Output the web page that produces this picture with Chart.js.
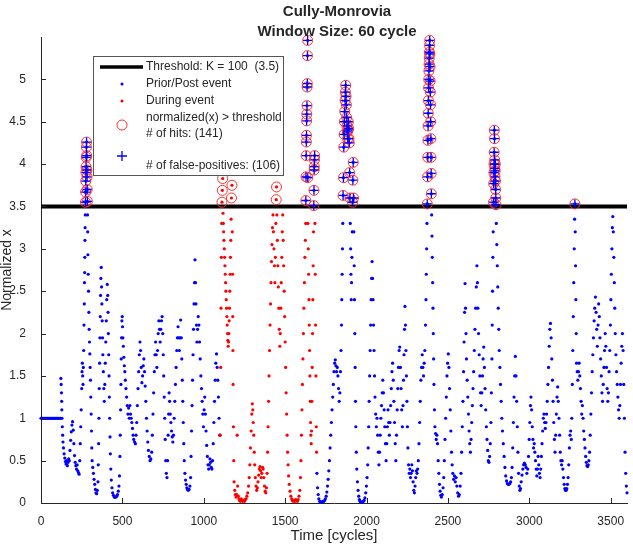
<!DOCTYPE HTML>
<html lang="en">
<head>
    <meta charset="utf-8">
    <title>Cully-Monrovia</title>
    <script src="https://cdn.jsdelivr.net/npm/chart.js@4.4.0/dist/chart.umd.min.js"></script>
    <style>
        body { margin: 0; background: #fff; }
    </style>
</head>
<body>
    <canvas id="grafica" width="633" height="546"></canvas>
</body>
</html>
<script>
    const threshold = 3.5

    // [cycle, normalized x]
    const priorEvent = [
        [0,1],[5,1],[10,1],[15,1],[20,1],[25,1],[30,1],[35,1],[40,1],[45,1],[50,1],[55,1],[60,1],[65,1],[70,1],[75,1],[80,1],[85,1],[90,1],[95,1],[100,1],[105,1],[110,1],[115,1],[120,1],
        [122,1.47],[124,1.4],[126,1.3],[127,1.2],[128,1.1],[129,1.0],[131,0.9],[133,0.8],[135,0.72],[138,0.65],[142,0.58],[146,0.53],[150,0.49],[154,0.46],[158,0.5],[162,0.44],[166,0.48],[170,0.52],[174,0.5],[178,0.62],[182,0.74],[186,0.84],[190,0.92],[194,0.96],[198,0.86],[202,0.7],[206,0.56],[210,0.48],[214,0.44],[218,0.4],[222,0.45],[226,0.38],[230,0.36],[234,0.34],[238,0.5],[241,0.7],[244,0.9],[247,1.1],[250,1.35],[252,1.55],[254,1.65],[256,1.5],[258,1.4],[260,1.6],[262,1.8],[264,2.1],[266,2.35],[267,2.6],[268,2.72],[269,2.9],[270,3.1],[271,3.25],[272,3.4],
        [273,3.55],[274,3.67],[275,3.8],[276,3.9],[277,3.97],[278,4.08],[279,4.2],[280,4.26],[281,4.1],[282,3.93],[283,3.85],[284,3.7],[285,3.56],
        [286,3.4],[287,3.2],[288,2.93],[290,2.7],[292,2.5],[294,2.25],[296,2.05],[298,1.9],[300,1.76],[302,1.6],[304,1.45],[306,1.25],[308,1.05],[310,0.85],[312,0.65],[314,0.5],[318,0.42],[322,0.35],[326,0.28],[330,0.22],[334,0.16],[338,0.12],[342,0.11],[346,0.15],[350,0.25],[352,0.45],[354,0.7],[356,1.0],[358,1.35],[360,1.65],[362,1.95],[364,2.2],[366,2.45],[368,2.65],[370,2.78],[372,2.55],[374,2.35],[376,2.15],[378,1.95],[380,1.75],[383,1.55],[386,1.35],[389,1.2],[392,1.4],[395,1.65],[398,1.9],[401,2.15],[404,2.4],[407,2.58],[410,2.45],[412,2.25],[414,2.0],[416,1.75],[418,1.5],[420,1.25],[422,1.0],[424,0.78],[426,0.58],[429,0.4],[432,0.27],[436,0.18],[440,0.12],[445,0.09],[450,0.07],[455,0.07],[460,0.07],[465,0.08],[470,0.1],[475,0.14],[479,0.2],[482,0.32],[485,0.55],[487,0.8],[489,1.1],[491,1.4],[493,1.7],[495,1.95],[497,2.15],[499,2.2],
        [501,2.08],[503,1.95],[506,1.85],[509,1.72],[512,1.62],[515,1.55],[518,1.45],[522,1.35],[526,1.25],[530,1.15],[534,1.05],[538,1.12],[542,1.0],[546,1.15],[550,1.05],[554,1.0],[558,0.95],[562,0.88],[566,0.8],[570,0.75],[575,0.72],[580,0.7],[584,0.8],[588,0.95],[592,1.15],[596,1.35],[600,1.55],[604,1.75],[608,1.9],[612,1.8],[616,1.6],[620,1.42],[624,1.5],[628,1.62],[632,1.7],[636,1.55],[640,1.38],[644,1.2],[648,1.0],[652,0.85],[656,0.72],[660,0.62],[665,0.55],[670,0.5],[675,0.52],[680,0.6],[684,0.8],[688,1.05],[692,1.3],[696,1.55],[700,1.75],[704,1.9],[708,1.75],[712,1.6],[716,1.8],[720,2.0],[724,2.15],[728,2.05],[732,1.9],[736,2.05],[740,2.15],[744,2.2],[748,2.0],[751,1.75],[754,1.5],[757,1.25],[760,1.0],[763,0.75],[766,0.5],[770,0.35],[774,0.3],[778,0.5],[781,0.8],[784,1.05],[787,1.3],[790,1.2],[794,1.05],[798,0.95],[802,0.85],[806,0.78],[810,0.72],[814,0.8],[818,1.0],[822,1.2],[826,1.4],[830,1.6],[834,1.8],[838,1.95],[842,2.08],[846,1.95],[850,1.8],[854,1.95],[858,2.16],[862,1.95],[865,1.7],[868,1.45],[871,1.2],[874,0.95],[877,0.7],[880,0.5],[884,0.35],[888,0.27],[892,0.22],[896,0.18],[900,0.16],[905,0.15],[910,0.16],[915,0.2],[919,0.3],[922,0.55],[925,0.85],[928,1.15],[931,1.45],[934,1.75],[937,2.05],[940,2.35],[943,2.6],[946,2.87],[949,2.6],[952,2.35],[955,2.1],[958,1.9],[962,2.05],[966,2.2],[970,2.1],[974,1.9],[978,1.7],[982,1.5],[986,1.35],[990,1.2],[994,1.05],[998,0.9],
        [1002,1.1],[1006,1.25],[1010,1.05],[1014,0.85],[1018,0.68],[1022,0.55],[1026,0.45],[1030,0.4],[1034,0.45],[1038,0.52],[1042,0.48],[1046,0.42],[1050,0.4],[1054,0.5],[1058,0.7],[1062,0.95],[1066,1.2],[1070,1.45],[1074,1.65],[1078,1.76],[1082,1.6],[1086,1.45],[1090,1.25],[1094,1.0],[1098,0.8]
    ]

    const duringEvent = [
        [1101,0.8],[1104,1.6],[1106,2.3],[1108,2.9],[1110,3.3],[1112,3.55],[1114,3.69],[1116,3.83],[1118,3.42],[1120,3.3],[1122,3.2],[1124,3.1],[1126,3.0],[1128,2.9],[1130,2.8],[1132,2.7],[1134,2.6],[1136,2.5],[1138,2.4],[1140,2.3],[1142,2.2],[1144,2.1],[1146,2.0],[1148,1.92],[1150,1.85],[1152,1.9],[1154,2.0],[1156,2.15],[1158,2.3],[1160,2.5],[1162,2.7],[1164,2.9],[1166,3.1],[1168,3.35],[1170,3.6],[1173,3.75],[1175,3.2],[1177,2.7],[1178,2.2],[1179,1.8],[1180,1.4],[1182,0.9],[1184,0.5],[1186,0.25],[1190,0.15],[1194,0.1],[1198,0.07],[1202,0.1],[1205,0.8],[1208,0.2],[1212,0.08],[1216,0.05],[1220,0.03],[1225,0.02],[1230,0.05],[1235,0.03],[1240,0.02],[1245,0.03],[1250,0.02],[1255,0.04],[1260,0.05],[1265,0.08],[1270,0.12],[1275,0.2],[1279,0.3],[1283,0.45],[1287,0.65],[1291,0.85],[1295,1.05],[1298,1.17],[1301,1.1],[1304,0.95],[1307,0.8],[1310,0.6],[1313,0.45],[1317,0.3],[1321,0.2],[1325,0.15],[1329,0.18],[1333,0.25],[1337,0.33],[1341,0.4],[1345,0.43],[1349,0.38],[1353,0.3],[1357,0.35],[1361,0.42],[1365,0.4],[1369,0.3],[1373,0.2],[1377,0.14],[1381,0.12],[1385,0.18],[1389,0.35],[1392,0.6],[1395,0.9],[1398,1.2],[1401,1.5],[1404,1.8],[1407,2.1],[1410,2.35],[1413,2.6],[1416,2.85],[1419,3.05],[1422,3.25],[1425,3.4],[1428,3.2],[1431,3.0],[1434,2.8],[1437,2.6],[1440,2.9],[1443,3.3],[1445,3.58],[1447,3.73],[1449,3.4],[1452,3.1],[1455,2.8],[1458,2.55],[1461,2.3],[1464,2.05],[1467,1.85],[1470,2.0],[1473,2.3],[1476,2.6],[1479,2.9],[1482,3.2],[1485,3.4],[1488,3.1],[1491,2.8],[1494,2.5],[1497,2.2],[1500,1.9],[1503,1.6],[1506,1.3],[1509,1.05],[1512,0.8],[1515,0.6],[1518,0.45],[1521,0.32],[1525,0.22],[1530,0.14],[1535,0.08],[1540,0.05],[1545,0.03],[1550,0.02],[1555,0.03],[1560,0.02],[1565,0.04],[1570,0.03],[1575,0.02],[1580,0.04],[1585,0.08],[1590,0.15],[1594,0.3],[1597,0.5],[1600,0.8],[1603,1.1],[1606,1.4],[1609,1.7],[1612,2.0],[1615,2.3],[1618,2.6],[1621,2.9],[1624,3.1],[1626,3.3],
        [1627,3.57],[1628,3.85],[1629,4.1],[1630,4.26],[1631,4.34],[1632,4.51],[1633,4.59],[1634,4.69],[1635,4.91],[1636,4.95],[1637,5.28],[1638,5.46],[1639,3.84],
        [1640,3.3],[1642,3.0],[1644,2.7],[1646,2.4],[1648,2.1],[1650,1.8],[1652,1.5],[1654,1.2],[1656,0.95],[1658,0.8],[1660,0.7],[1662,0.85],[1664,1.2],[1666,1.6],[1668,2.0],[1670,2.4],[1672,2.8],[1674,3.2],
        [1676,3.51],[1677,3.69],[1678,3.93],[1679,3.97],[1680,4.05],[1681,4.1],
        [1683,3.3],[1685,2.7],[1687,2.1],[1689,1.5],[1691,0.9],[1693,0.6]
    ]

    const postEvent = [
        [1695,0.35],[1699,0.18],[1703,0.1],[1707,0.05],[1712,0.02],[1717,0.01],[1722,0.01],[1727,0.01],[1732,0.02],[1737,0.02],[1742,0.03],[1747,0.05],[1752,0.08],[1756,0.13],[1760,0.2],[1764,0.28],[1768,0.38],[1772,0.5],[1776,0.65],[1780,0.8],[1784,0.95],[1788,1.1],[1792,1.25],[1796,1.4],[1800,1.55],[1804,1.65],[1808,1.69],[1812,1.62],[1816,1.55],[1820,1.6],[1824,1.5],[1828,1.35],[1832,1.2],[1836,1.3],[1840,1.55],[1843,1.8],[1846,2.1],[1848,2.4],[1850,2.7],[1852,3.0],[1854,3.3],
        [1856,3.63],[1858,3.84],[1860,4.2],[1862,4.35],[1864,4.5],[1866,4.62],[1868,4.75],[1870,4.85],[1872,4.93],[1874,4.8],[1876,4.7],[1878,4.55],[1880,4.45],[1882,4.38],[1884,4.3],[1886,4.4],[1888,4.5],[1890,4.42],[1892,4.3],[1894,4.25],[1896,3.9],[1898,3.6],
        [1900,3.3],[1902,3.0],[1904,2.7],[1906,2.4],[1908,2.6],[1910,2.9],[1912,3.2],[1914,3.55],[1916,3.81],[1918,4.02],[1920,3.6],[1922,3.2],[1924,2.8],[1926,2.4],[1928,2.0],[1930,1.6],[1932,1.2],[1934,0.9],[1937,0.6],[1940,0.4],[1944,0.25],[1948,0.15],[1952,0.08],[1956,0.04],[1960,0.02],[1965,0.01],[1970,0.01],[1975,0.01],[1980,0.02],[1985,0.03],[1990,0.06],[1995,0.12],[1999,0.2],
        [2003,0.3],[2007,0.45],[2010,0.65],[2013,0.9],[2016,1.2],[2019,1.5],[2022,1.8],[2025,2.1],[2028,2.4],[2031,2.65],[2034,2.85],[2037,2.65],[2040,2.4],[2043,2.1],[2046,1.8],[2049,1.5],[2052,1.25],[2056,1.05],[2060,0.9],[2064,1.0],[2068,0.8],[2072,0.6],[2076,0.45],[2080,0.6],[2084,0.8],[2088,1.0],[2092,1.15],[2096,1.3],[2100,1.45],[2104,1.3],[2108,1.1],[2112,0.9],[2116,0.7],[2120,0.5],[2124,0.7],[2128,0.9],[2132,1.1],[2136,0.95],[2140,0.8],[2144,0.95],[2148,1.15],[2152,1.35],[2156,1.55],[2160,1.65],[2164,1.45],[2168,1.2],[2172,0.95],[2176,0.7],[2180,0.5],[2184,0.8],[2188,1.1],[2192,1.35],[2196,1.6],[2200,1.8],[2204,1.84],[2208,1.6],[2212,1.35],[2216,1.1],[2220,0.9],[2224,1.15],[2227,1.45],[2230,1.75],[2233,2.05],[2236,2.32],[2239,2.1],[2242,1.8],[2245,1.5],[2248,1.2],[2251,0.9],[2254,0.65],[2258,0.45],[2262,0.35],[2266,0.4],[2270,0.3],[2274,0.35],[2278,0.45],[2282,0.38],[2286,0.25],[2290,0.15],[2294,0.12],[2298,0.2],[2302,0.3],[2306,0.38],[2310,0.35],[2314,0.4],[2318,0.5],[2322,0.7],[2326,0.95],[2330,1.2],[2334,1.45],[2338,1.6],[2342,1.75],[2346,1.6],[2350,1.5],[2354,1.65],[2358,1.8],[2362,2.1],[2365,2.4],[2367,2.7],[2369,3.0],[2371,3.3],
        [2373,3.53],[2375,3.85],[2376,4.08],[2377,4.28],[2378,4.45],[2379,4.6],[2380,4.75],[2381,4.9],[2382,5.0],[2383,5.1],[2384,5.18],[2385,5.25],[2386,5.32],[2387,5.4],[2388,5.46],[2389,5.3],[2390,5.15],[2391,4.98],[2392,4.85],[2393,4.7],[2394,4.5],[2395,4.3],[2396,4.08],[2397,3.89],[2398,3.65],
        [2400,3.4],[2402,3.15],[2404,2.9],[2406,2.6],[2408,2.3],[2410,2.0],[2412,1.7],[2414,1.4],[2417,1.1],[2420,0.9],[2424,0.82],[2428,0.75],[2432,0.8],[2436,0.7],[2440,0.5],[2444,0.35],[2448,0.22],[2452,0.14],[2456,0.09],[2460,0.07],[2465,0.1],[2470,0.18],[2474,0.3],[2478,0.5],[2482,0.75],[2486,1.0],[2490,1.25],[2494,1.5],[2498,1.65],[2502,1.76],[2506,1.6],[2510,1.35],[2514,1.1],[2518,0.85],[2522,0.6],[2526,0.45],[2530,0.35],[2535,0.28],[2540,0.32],[2545,0.25],[2550,0.3],[2555,0.2],[2560,0.12],[2565,0.08],[2570,0.1],[2575,0.2],[2580,0.35],[2584,0.6],[2588,0.9],[2592,1.2],[2596,1.55],[2599,1.9],[2602,2.25],[2605,2.59],[2608,2.3],[2611,2.0],[2614,1.7],[2618,1.45],[2622,1.25],[2626,1.05],[2630,0.85],[2634,0.7],[2638,0.6],[2642,0.75],[2646,0.95],[2650,1.15],[2654,1.35],[2658,1.55],[2662,1.8],[2666,2.05],[2670,2.3],[2674,2.55],[2678,2.8],[2681,2.6],[2684,2.3],[2688,2.0],[2692,1.75],[2696,1.5],[2700,1.3],[2704,1.15],[2708,1.3],[2712,1.5],[2716,1.7],[2720,1.84],[2724,1.6],[2728,1.35],[2732,1.1],[2736,0.9],[2740,0.75],[2744,0.62],[2748,0.5],[2752,0.48],[2756,0.55],[2760,0.7],[2764,0.95],[2767,1.3],[2770,1.7],[2772,2.1],[2774,2.5],[2776,2.9],[2778,3.2],
        [2780,3.55],[2781,3.77],[2782,3.9],[2783,4.0],[2784,4.14],[2785,4.4],[2786,4.3],[2787,4.05],[2788,3.95],[2789,3.85],[2790,3.92],[2791,4.0],[2792,3.8],[2793,3.7],[2794,3.6],[2795,3.52],
        [2797,3.3],[2800,3.05],[2803,2.8],[2806,2.55],[2809,2.3],[2812,2.05],[2815,1.8],[2819,1.6],[2823,1.4],[2827,1.2],[2831,1.0],[2835,0.85],[2840,0.7],[2845,0.55],[2850,0.42],[2855,0.32],[2860,0.26],[2865,0.23],[2870,0.22],[2875,0.22],[2880,0.23],[2885,0.25],[2890,0.3],[2894,0.42],[2898,0.65],[2902,0.95],[2906,1.25],[2910,1.5],[2914,1.73],[2918,1.5],[2922,1.2],[2926,0.9],[2930,0.6],[2934,0.35],[2938,0.2],[2942,0.15],[2946,0.17],[2950,0.25],[2955,0.33],[2960,0.4],[2965,0.45],[2970,0.47],[2975,0.45],[2980,0.42],[2985,0.35],[2990,0.4],[2995,0.55],[2999,0.75],
        [3003,0.95],[3007,1.15],[3010,1.25],[3014,1.1],[3018,0.9],[3022,0.75],[3026,0.65],[3030,0.7],[3034,0.6],[3038,0.5],[3042,0.4],[3046,0.32],[3050,0.4],[3054,0.55],[3058,0.45],[3062,0.35],[3066,0.3],[3070,0.4],[3074,0.55],[3078,0.7],[3082,0.85],[3086,1.0],[3090,1.05],[3094,0.95],[3098,0.88],[3102,0.95],[3106,1.05],[3110,1.2],[3114,1.4],[3118,1.6],[3122,1.85],[3126,2.05],[3130,2.12],[3134,1.95],[3138,1.7],[3142,1.45],[3146,1.2],[3150,0.95],[3154,0.75],[3158,0.6],[3162,0.8],[3166,1.05],[3170,1.25],[3174,1.37],[3178,1.2],[3182,1.0],[3186,0.8],[3190,0.6],[3194,0.5],[3198,0.45],[3202,0.5],[3206,0.4],[3210,0.3],[3214,0.22],[3218,0.17],[3222,0.15],[3226,0.15],[3230,0.17],[3234,0.22],[3238,0.3],[3242,0.45],[3246,0.65],[3250,0.8],[3254,0.85],[3258,0.75],[3261,1.0],[3264,1.4],[3267,1.8],[3270,2.2],[3273,2.6],[3276,3.0],[3278,3.35],[3280,3.53],[3282,3.2],[3284,2.8],[3286,2.4],[3288,2.0],[3290,1.65],[3294,1.55],[3298,1.45],[3302,1.55],[3306,1.65],[3310,1.5],[3314,1.35],[3318,1.2],[3322,1.05],[3326,1.15],[3330,1.0],[3334,0.85],[3338,0.75],[3342,0.65],[3346,0.55],[3350,0.48],[3354,0.44],[3358,0.43],[3362,0.45],[3366,0.5],[3370,0.6],[3374,0.8],[3378,1.05],[3382,1.3],[3386,1.55],[3390,1.75],[3394,1.95],[3398,2.15],[3402,2.3],[3406,2.43],[3410,2.25],[3414,2.05],[3418,1.85],[3422,2.1],[3426,2.35],[3430,2.2],[3434,1.95],[3438,1.7],[3442,1.5],[3446,1.3],[3450,1.2],[3454,1.4],[3458,1.6],[3462,1.8],[3466,2.0],[3470,1.85],[3474,1.6],[3478,1.35],[3482,1.2],[3486,1.3],[3490,1.55],[3494,1.8],[3498,2.1],
        [3501,2.4],[3504,2.7],[3507,3.0],[3510,3.25],[3513,3.38],[3516,3.2],[3519,2.9],[3522,2.6],[3525,2.3],[3528,2.0],[3532,1.75],[3536,1.55],[3540,1.4],[3544,1.25],[3548,1.1],[3552,1.0],[3556,1.15],[3560,1.4],[3564,1.65],[3568,1.85],[3572,2.0],[3576,1.8],[3580,1.4],[3584,1.0],[3588,0.6],[3592,0.35],[3596,0.2],[3600,0.12]
    ]

    // exceedances inside these cycle windows are hits only (no false-positive cross)
    const hitWindows = [[1100, 1180], [1440, 1450]]

    const xTickValues = [0, 500, 1000, 1500, 2000, 2500, 3000, 3500]
    const yTickValues = [0, 0.5, 1, 1.5, 2, 2.5, 3, 3.5, 4, 4.5, 5]
    const titleLines = ['Cully-Monrovia', 'Window Size: 60 cycle']
    const xTitle = 'Time [cycles]'
    const yTitle = 'Normalized x'
    const legendLabels = ['Threshold: K = 100  (3.5)', 'Prior/Post event', 'During event', 'normalized(x) > threshold', '# of hits: (141)', '# of false-positives: (106)']

    const fuente = '"Liberation Sans", Arial, sans-serif'
    const colorTexto = '#262626'
    const azul = '#0000ff'
    const rojo = '#ff0000'

    const aXY = (arr) => arr.map(p => ({x: p[0], y: p[1]}))
    const enHit = (t) => hitWindows.some(w => t >= w[0] && t <= w[1])

    const todos = priorEvent.concat(duringEvent, postEvent)
    const sobreUmbral = todos.filter(p => p[1] > threshold)
    const circulos = aXY(sobreUmbral)
    const cruces = aXY(sobreUmbral.filter(p => !enHit(p[0])))

    const dibujarCruz = (ctx, x, y, r) => {
        ctx.beginPath()
        ctx.moveTo(x - r, y); ctx.lineTo(x + r, y)
        ctx.moveTo(x, y - r); ctx.lineTo(x, y + r)
        ctx.stroke()
    }

    const decoracion = {
        id: 'decoracion',
        afterDraw(chart) {
            const {ctx, chartArea: area, scales: {x, y}} = chart
            ctx.save()

            // ticks pointing inwards, like the original
            ctx.strokeStyle = colorTexto
            ctx.lineWidth = 1
            ctx.beginPath()
            yTickValues.forEach(v => {
                const py = Math.round(y.getPixelForValue(v)) + 0.5
                ctx.moveTo(area.left, py); ctx.lineTo(area.left + 5, py)
            })
            xTickValues.forEach(v => {
                const px = Math.round(x.getPixelForValue(v)) + 0.5
                ctx.moveTo(px, area.bottom); ctx.lineTo(px, area.bottom - 5)
            })
            ctx.stroke()

            // titles
            ctx.fillStyle = colorTexto
            ctx.textAlign = 'center'
            ctx.textBaseline = 'middle'
            ctx.font = 'bold 15px ' + fuente
            ctx.fillText(titleLines[0], 337, 12)
            ctx.fillText(titleLines[1], 337, 32)
            ctx.font = '15px ' + fuente
            ctx.fillText(xTitle, (area.left + area.right) / 2, 536)
            ctx.save()
            ctx.translate(7, (area.top + area.bottom) / 2)
            ctx.rotate(-Math.PI / 2)
            ctx.font = '14px ' + fuente
            ctx.fillText(yTitle, 0, 0)
            ctx.restore()

            // legend box
            ctx.fillStyle = '#fff'
            ctx.fillRect(93.5, 56.5, 190, 119)
            ctx.strokeStyle = '#555'
            ctx.strokeRect(93.5, 56.5, 190, 119)

            ctx.strokeStyle = '#000'
            ctx.lineWidth = 3.5
            ctx.beginPath(); ctx.moveTo(100, 67); ctx.lineTo(143, 67); ctx.stroke()

            ctx.fillStyle = azul
            ctx.beginPath(); ctx.arc(122, 84, 1.5, 0, Math.PI * 2); ctx.fill()
            ctx.fillStyle = rojo
            ctx.beginPath(); ctx.arc(122, 101, 1.5, 0, Math.PI * 2); ctx.fill()

            ctx.strokeStyle = '#ff3030'
            ctx.lineWidth = 1
            ctx.beginPath(); ctx.arc(122, 125, 5, 0, Math.PI * 2); ctx.stroke()
            ctx.strokeStyle = azul
            ctx.lineWidth = 1.3
            dibujarCruz(ctx, 122, 156, 5)

            ctx.fillStyle = colorTexto
            ctx.textAlign = 'left'
            ctx.font = '12px ' + fuente
            ctx.fillText(legendLabels[0], 146, 67)
            ctx.fillText(legendLabels[1], 146, 84)
            ctx.fillText(legendLabels[2], 146, 101)
            ctx.fillText(legendLabels[3], 146, 118)
            ctx.fillText(legendLabels[4], 146, 134)
            ctx.fillText(legendLabels[5], 146, 166)

            ctx.restore()
        }
    }

    const grafica = new Chart(document.querySelector('#grafica'), {
        type: 'scatter',
        data: {
            datasets: [
                {
                    label: 'false-positives',
                    data: cruces,
                    pointStyle: 'cross',
                    pointRadius: 4.5,
                    borderColor: azul,
                    borderWidth: 1.3,
                    backgroundColor: 'transparent',
                    clip: false
                },
                {
                    label: 'hits',
                    data: circulos,
                    pointStyle: 'circle',
                    pointRadius: 5,
                    borderColor: '#ff3030',
                    borderWidth: 1,
                    backgroundColor: 'transparent',
                    clip: false
                },
                {
                    label: 'During event',
                    data: aXY(duringEvent),
                    pointRadius: 1.6,
                    backgroundColor: rojo,
                    borderWidth: 0,
                    clip: false
                },
                {
                    label: 'Prior/Post event',
                    data: aXY(priorEvent.concat(postEvent)),
                    pointRadius: 1.6,
                    backgroundColor: azul,
                    borderWidth: 0,
                    clip: false
                },
                {
                    type: 'line',
                    label: 'Threshold',
                    data: [{x: 0, y: threshold}, {x: 3600, y: threshold}],
                    showLine: true,
                    borderColor: '#000',
                    borderWidth: 4,
                    pointRadius: 0
                }
            ]
        },
        options: {
            responsive: false,
            animation: false,
            events: [],
            layout: { padding: { top: 37, right: 3, left: 0, bottom: 0 } },
            plugins: {
                legend: { display: false },
                tooltip: { enabled: false }
            },
            scales: {
                x: {
                    type: 'linear',
                    min: 0,
                    max: 3600,
                    grid: { display: false },
                    border: { display: true, color: colorTexto, width: 1 },
                    ticks: {
                        color: colorTexto,
                        font: { family: fuente, size: 12 },
                        padding: 3,
                        maxRotation: 0,
                        callback: v => String(v)
                    },
                    afterBuildTicks: s => { s.ticks = xTickValues.map(v => ({value: v})) },
                    afterFit: s => { s.height = 43 }
                },
                y: {
                    type: 'linear',
                    min: 0,
                    max: 5.5,
                    grid: { display: false },
                    border: { display: true, color: colorTexto, width: 1 },
                    ticks: {
                        color: colorTexto,
                        font: { family: fuente, size: 12 },
                        padding: 7,
                        callback: v => String(Math.round(v * 10) / 10)
                    },
                    afterBuildTicks: s => { s.ticks = yTickValues.map(v => ({value: v})) },
                    afterFit: s => { s.width = 41 }
                }
            }
        },
        plugins: [decoracion]
    })
</script>
